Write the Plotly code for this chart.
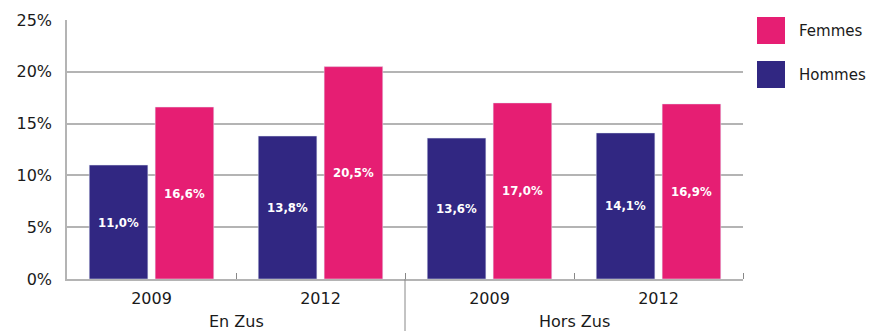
import plotly.graph_objects as go

zones = ["En Zus", "Hors Zus"]
years = ["2009", "2012", "2009", "2012"]
hommes = [11.0, 13.8, 13.6, 14.1]
femmes = [16.6, 20.5, 17.0, 16.9]
y_ticks = [0, 5, 10, 15, 20, 25]

PINK = "#E61E73"
NAVY = "#312782"
GRID = "#b4b4b4"
TEXT = "#1a1a1a"

xpos = list(range(len(years)))


def fr(v):
    return f"{v:.1f}".replace(".", ",") + "%"


fig = go.Figure()
for name, vals, col in [("Hommes", hommes, NAVY), ("Femmes", femmes, PINK)]:
    fig.add_trace(go.Bar(
        x=xpos, y=vals, name=name, marker_color=col,
        text=[fr(v) for v in vals], textposition="inside",
        insidetextanchor="middle", textangle=0,
        textfont=dict(family="DejaVu Sans Condensed", size=13, color="white", weight="bold"),
        showlegend=False,
    ))

# zone labels under each pair of years
for i, z in enumerate(zones):
    fig.add_annotation(x=2 * i + 0.5, xref="x", y=-42 / 259, yref="paper",
                       text=z, showarrow=False, yanchor="middle",
                       font=dict(size=16, color=TEXT))

# separator between the two zones
fig.add_shape(type="line", xref="x", yref="paper", x0=1.5, x1=1.5,
              y0=0, y1=-52 / 259, line=dict(color="#888888", width=1))

# legend swatches drawn beside the plot
for i, (name, col) in enumerate([("Femmes", PINK), ("Hommes", NAVY)]):
    top = 17 + i * 44
    fig.add_shape(type="rect", xref="paper", yref="paper",
                  x0=(757 - 67) / 676, x1=(785 - 67) / 676,
                  y0=1 - (top + 27 - 20) / 259, y1=1 - (top - 20) / 259,
                  fillcolor=col, line_width=0)
    fig.add_annotation(xref="paper", yref="paper", x=(797 - 67) / 676,
                       y=1 - (top + 13.5 - 20) / 259, text=name, showarrow=False,
                       xanchor="left", yanchor="middle",
                       font=dict(family="DejaVu Sans", size=15, color=TEXT))

fig.update_layout(
    width=887, height=331,
    margin=dict(l=67, r=144, t=20, b=52),
    paper_bgcolor="white", plot_bgcolor="white",
    barmode="group", bargap=0.22, bargroupgap=0.11,
    font=dict(family="DejaVu Sans", size=16, color=TEXT),
    yaxis=dict(range=[0, 25], tickvals=y_ticks, ticktext=[f"{v}%" for v in y_ticks],
               showgrid=True, gridcolor=GRID, gridwidth=1.5,
               showline=True, linecolor=GRID, linewidth=1.5,
               ticks="", ticklabelstandoff=10, zeroline=False,
               tickfont=dict(size=16)),
    xaxis=dict(range=[-0.5, 3.5], tickvals=xpos, ticktext=years, ticks="",
               showline=True, linecolor=GRID, linewidth=1.5, showgrid=False,
               zeroline=False, ticklabelstandoff=4, tickfont=dict(size=16),
               minor=dict(tickvals=[0.5, 1.5, 2.5, 3.5], ticks="inside", ticklen=6,
                          tickcolor="#888888", tickwidth=1, showgrid=False)),
)

fig.write_html("out.html")
